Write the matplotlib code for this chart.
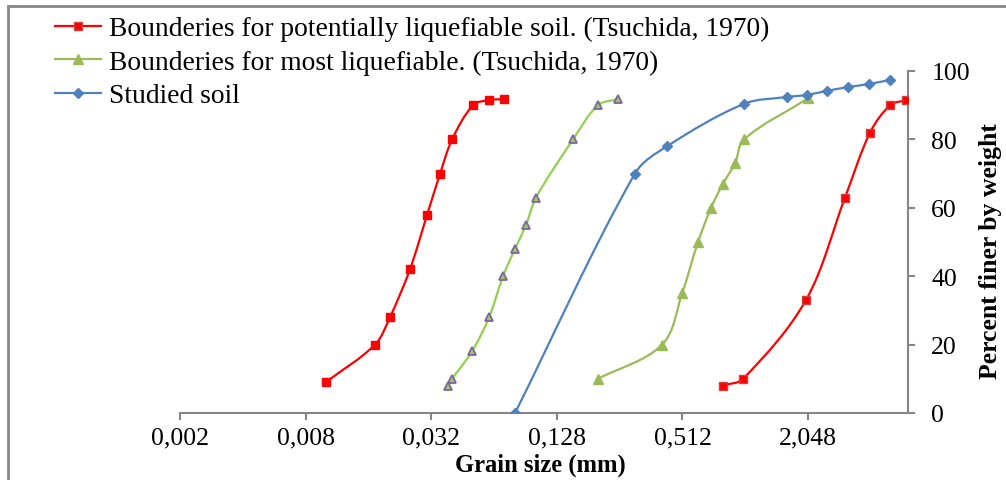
import numpy as np
import matplotlib.pyplot as plt
from matplotlib.path import Path
from matplotlib.patches import PathPatch, Rectangle
from matplotlib.lines import Line2D

plt.rcParams['font.family'] = ['Liberation Serif', 'DejaVu Serif']

# grain size (mm) / percent finer
red_lo_x = [0.0100, 0.0172, 0.0203, 0.0253, 0.0306, 0.0353, 0.0403, 0.0508, 0.0606, 0.0715]
red_lo_y = [9, 20, 28, 42, 58, 70, 80, 90, 91.5, 91.8]
red_hi_x = [0.80, 1.0, 2.0, 3.08, 4.06, 5.07, 6.04]
red_hi_y = [8, 10, 33, 63, 82, 90, 91.5]
green_lo_x = [0.0385, 0.0403, 0.0502, 0.0606, 0.0707, 0.0807, 0.0911, 0.1017, 0.1531, 0.2017, 0.2516]
green_lo_y = [8, 10, 18, 28, 40, 48, 55, 63, 80, 90, 91.8]
green_hi_x = [0.2017, 0.409, 0.51, 0.608, 0.702, 0.80, 0.915, 1.01, 2.048]
green_hi_y = [10, 20, 35, 50, 60, 67, 73, 80, 92]
soil_x = [0.0807, 0.303, 0.432, 1.01, 1.62, 2.02, 2.52, 3.19, 4.01, 5.07]
soil_y = [0, 70, 78, 90.4, 92.4, 93, 94.2, 95.3, 96.2, 97.4]

tick_vals = [0.002, 0.008, 0.032, 0.128, 0.512, 2.048]
tick_labels = ['0,002', '0,008', '0,032', '0,128', '0,512', '2,048']

RED = '#FF0000'
GREEN = '#92D050'
GREEN2 = '#9BBB59'
PURPLE = '#8064A2'
BLUE = '#4F81BD'
GREY = '#868686'
FS = 18.5

# rough pixel scale of the plot area, only used to shape the smoothing
SX, SY = 62.8, 3.42


def smooth(ax, xs, ys, color):
    # smoothed line like excel, tangents clamped so nothing loops
    p = np.column_stack([np.log2(xs) * SX, np.asarray(ys, float) * SY])
    n = len(p)
    tang = []
    for i in range(n):
        d = p[min(i + 1, n - 1)] - p[max(i - 1, 0)]
        tang.append(d / (np.hypot(*d) or 1))
    verts = [p[0]]
    codes = [Path.MOVETO]
    for i in range(n - 1):
        L = np.hypot(*(p[i + 1] - p[i]))
        verts += [p[i] + tang[i] * L / 3, p[i + 1] - tang[i + 1] * L / 3, p[i + 1]]
        codes += [Path.CURVE4] * 3
    v = np.array(verts)
    v = np.column_stack([2 ** (v[:, 0] / SX), v[:, 1] / SY])
    ax.add_patch(PathPatch(Path(v, codes), fill=False, edgecolor=color, lw=1.6, zorder=2))


fig = plt.figure(figsize=(10.06, 4.81), dpi=100)
ax = fig.add_axes([180 / 1006, 67 / 481, 728 / 1006, 342 / 481])

smooth(ax, red_lo_x, red_lo_y, RED)
smooth(ax, red_hi_x, red_hi_y, RED)
smooth(ax, green_lo_x, green_lo_y, GREEN)
smooth(ax, green_hi_x, green_hi_y, GREEN2)
smooth(ax, soil_x, soil_y, BLUE)

ax.plot(red_lo_x, red_lo_y, ls='none', marker='s', ms=6.3, mfc=RED, mec=RED, zorder=3)
ax.plot(red_hi_x, red_hi_y, ls='none', marker='s', ms=6.3, mfc=RED, mec='#D0403D', mew=1, zorder=3)
ax.plot(green_lo_x, green_lo_y, ls='none', marker='^', ms=6.3, mfc=GREEN, mec=PURPLE, mew=1.3, zorder=3)
ax.plot(green_hi_x, green_hi_y, ls='none', marker='^', ms=7, mfc=GREEN2, mec=GREEN2, zorder=3)
ax.plot(soil_x, soil_y, ls='none', marker='D', ms=5, mfc=BLUE, mec=BLUE, zorder=3)

ax.set_xscale('log', base=2)
ax.set_xlim(0.002, 6.17)
ax.set_ylim(0, 100)
ax.set_xticks(tick_vals)
ax.set_xticklabels(tick_labels)
ax.minorticks_off()
ax.set_yticks(range(0, 101, 20))

for s in ['top', 'left']:
    ax.spines[s].set_visible(False)
for s in ['bottom', 'right']:
    ax.spines[s].set_color(GREY)
    ax.spines[s].set_linewidth(1.5)
ax.yaxis.tick_right()
ax.tick_params(axis='both', colors=GREY, labelcolor='black', labelsize=FS,
               length=4.8, width=1.5, direction='out')
ax.tick_params(axis='x', pad=5)
ax.tick_params(axis='y', pad=12)
for lab in ax.get_xticklabels() + ax.get_yticklabels():
    lab.set_clip_on(False)

fig.text(540 / 1006, 1 - 465 / 481, 'Grain size (mm)', ha='center', va='center',
         fontsize=17.7, fontweight='bold')
fig.text(990 / 1006, 1 - 251 / 481, 'Percent finer by weight', ha='center', va='center',
         rotation=90, fontsize=FS, fontweight='bold')

handles = [
    Line2D([], [], color=RED, lw=1.6, marker='s', ms=6.3, mfc=RED, mec='#D0403D'),
    Line2D([], [], color=GREEN2, lw=1.6, marker='^', ms=7, mfc=GREEN2, mec=GREEN2),
    Line2D([], [], color=BLUE, lw=1.6, marker='D', ms=5, mfc=BLUE, mec=BLUE),
]
labels = ['Bounderies for potentially liquefiable soil. (Tsuchida, 1970)',
          'Bounderies for most liquefiable. (Tsuchida, 1970)',
          'Studied soil']
fig.legend(handles, labels, loc='upper left', bbox_to_anchor=(55 / 1006, 1 - 17 / 481),
           frameon=False, prop={'size': 19.8}, handlelength=1.66, handletextpad=0.3,
           labelspacing=0.3, borderpad=0, borderaxespad=0)

fig.patches.append(Rectangle((8 / 1006, -0.1), 1.2, 1.1 - 7 / 481, transform=fig.transFigure,
                             fill=False, edgecolor=GREY, lw=2, figure=fig))

fig.savefig('out.png', dpi=100)
